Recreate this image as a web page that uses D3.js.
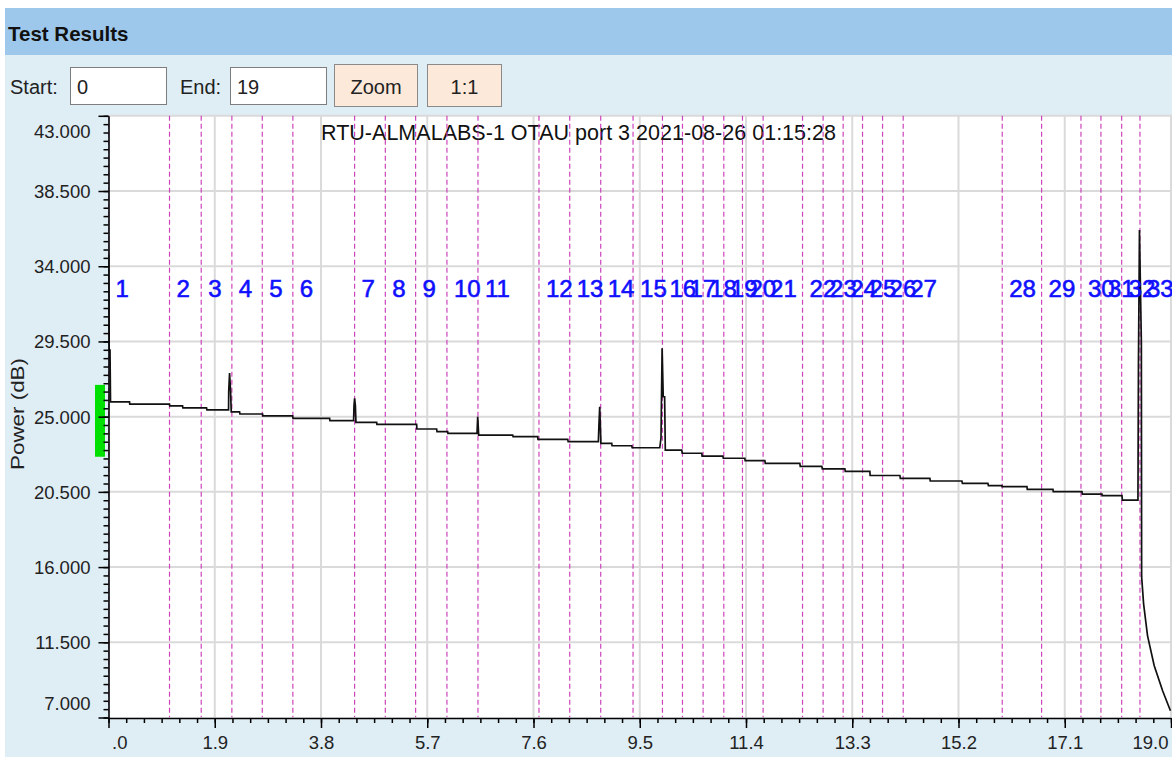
<!DOCTYPE html>
<html>
<head>
<meta charset="utf-8">
<script src="https://cdn.jsdelivr.net/npm/d3@7/dist/d3.min.js"></script>
<style>
  html, body { margin: 0; padding: 0; background: #ffffff; }
  svg { display: block; }
</style>
</head>
<body>
<svg id="chart" width="1172" height="757"></svg>
<script>
// ---- data ----
const chartTitle = "RTU-ALMALABS-1 OTAU port 3 2021-08-26 01:15:28";
const yAxisTitle = "Power (dB)";

const xTickValues = [0, 1.9, 3.8, 5.7, 7.6, 9.5, 11.4, 13.3, 15.2, 17.1, 19.0];
const xTickLabels = [".0", "1.9", "3.8", "5.7", "7.6", "9.5", "11.4", "13.3", "15.2", "17.1", "19.0"];
const yTickValues = [7, 11.5, 16, 20.5, 25, 29.5, 34, 38.5, 43];
const yTickLabels = ["7.000", "11.500", "16.000", "20.500", "25.000", "29.500", "34.000", "38.500", "43.000"];

// event markers (distance in km)
const eventNumbers = [1, 2, 3, 4, 5, 6, 7, 8, 9, 10, 11, 12, 13, 14, 15, 16, 17,
  18, 19, 20, 21, 22, 23, 24, 25, 26, 27, 28, 29, 30, 31, 32, 33];
const eventDistanceKm = [0.000, 1.091, 1.658, 2.206, 2.750, 3.297, 4.401, 4.950, 5.492,
  6.052, 6.607, 7.698, 8.248, 8.802, 9.380, 9.906, 10.264, 10.633, 11.003, 11.337,
  11.706, 12.411, 12.779, 13.137, 13.484, 13.842, 14.211, 15.982, 16.686, 17.390,
  17.747, 18.118, 18.445];

// reflectometer trace
const traceDistanceKm = [
  0.000, 0.010, 0.027, 0.036, 0.376, 0.380, 1.091, 1.095, 1.324, 1.330,
  1.753, 1.760, 2.147, 2.150, 2.165, 2.183, 2.195, 2.344, 2.350, 2.755,
  2.760, 3.292, 3.300, 3.954, 3.960, 4.383, 4.390, 4.401, 4.415, 4.425,
  4.795, 4.800, 5.510, 5.515, 5.868, 5.875, 6.065, 6.070, 6.590, 6.602,
  6.620, 7.228, 7.235, 7.675, 7.680, 8.212, 8.220, 8.760, 8.770, 8.784,
  8.795, 8.805, 8.999, 9.005, 9.357, 9.365, 9.858, 9.880, 9.900, 9.920,
  9.945, 9.957, 10.251, 10.260, 10.609, 10.615, 10.985, 10.995, 11.379, 11.385,
  11.737, 11.745, 12.363, 12.370, 12.756, 12.765, 13.168, 13.175, 13.615, 13.620,
  14.152, 14.160, 14.688, 14.695, 15.261, 15.270, 15.726, 15.735, 15.976, 15.980,
  16.424, 16.430, 16.889, 16.895, 17.408, 17.415, 17.766, 17.770, 18.123, 18.130,
  18.409, 18.418, 18.436, 18.470, 18.475, 18.510, 18.580, 18.700, 18.850, 18.990
];
const tracePowerDb = [
  34.67, 28.98, 28.98, 25.89, 25.89, 25.75, 25.75, 25.65, 25.65, 25.53,
  25.53, 25.40, 25.40, 26.55, 27.61, 26.55, 25.29, 25.29, 25.16, 25.16,
  25.05, 25.05, 24.90, 24.90, 24.76, 24.76, 25.65, 26.10, 25.65, 24.66,
  24.66, 24.54, 24.54, 24.26, 24.26, 24.10, 24.10, 24.00, 24.00, 24.99,
  23.90, 23.90, 23.80, 23.80, 23.64, 23.64, 23.50, 23.50, 24.50, 25.59,
  24.50, 23.40, 23.40, 23.26, 23.26, 23.14, 23.14, 23.72, 29.09, 26.19,
  26.19, 23.00, 23.00, 22.81, 22.81, 22.64, 22.64, 22.51, 22.51, 22.37,
  22.37, 22.20, 22.20, 22.02, 22.02, 21.87, 21.87, 21.72, 21.72, 21.48,
  21.48, 21.31, 21.31, 21.15, 21.15, 21.01, 21.01, 20.87, 20.87, 20.81,
  20.81, 20.65, 20.65, 20.51, 20.51, 20.37, 20.37, 20.27, 20.27, 20.01,
  20.01, 28.19, 36.16, 29.48, 15.41, 13.80, 11.90, 10.10, 8.60, 7.40
];

// acceptance band shown beside the power axis (dB)
const bandLowDb = 22.6;
const bandHighDb = 26.9;

// ---- layout ----
const W = 1172, H = 757;
const plot = { left: 108.5, right: 1171, top: 115.8, bottom: 717.5 };
const uiFont = "'Liberation Sans', Arial, sans-serif";

const svg = d3.select("#chart");

// window chrome
svg.append("rect").attr("x", 0).attr("y", 0).attr("width", W).attr("height", H).attr("fill", "#ffffff");
svg.append("rect").attr("x", 5).attr("y", 55).attr("width", W - 5).attr("height", H - 55).attr("fill", "#dfedf5");
svg.append("rect").attr("x", 5).attr("y", 8).attr("width", W - 5).attr("height", 47).attr("fill", "#9dc8ec");
svg.append("text").attr("x", 8).attr("y", 41)
  .attr("font-family", uiFont).attr("font-weight", "bold").attr("font-size", 20.5)
  .attr("fill", "#111").text("Test Results");

// range controls
const controls = svg.append("g").attr("font-family", uiFont).attr("font-size", 20).attr("fill", "#222");
controls.append("text").attr("x", 10).attr("y", 94).text("Start:");
controls.append("rect").attr("x", 70.5).attr("y", 67.5).attr("width", 96).attr("height", 37)
  .attr("fill", "#fff").attr("stroke", "#7d7d7d");
controls.append("text").attr("x", 77).attr("y", 94).text("0");
controls.append("text").attr("x", 180).attr("y", 94).text("End:");
controls.append("rect").attr("x", 230.5).attr("y", 67.5).attr("width", 96).attr("height", 37)
  .attr("fill", "#fff").attr("stroke", "#7d7d7d");
controls.append("text").attr("x", 237).attr("y", 94).text("19");
[{ x: 334.5, w: 83, label: "Zoom" }, { x: 427.5, w: 74, label: "1:1" }].forEach(b => {
  controls.append("rect").attr("x", b.x).attr("y", 64.5).attr("width", b.w).attr("height", 42)
    .attr("fill", "#fde9d9").attr("stroke", "#8a8a8a");
  controls.append("text").attr("x", b.x + b.w / 2).attr("y", 94).attr("text-anchor", "middle").text(b.label);
});

// ---- scales ----
const x = d3.scaleLinear().domain([0, 19.0]).range([plot.left, plot.right]);
const y = d3.scaleLinear().domain([7, 43]).range([plot.bottom, plot.top]);

// plot background
svg.append("rect").attr("x", plot.left).attr("y", plot.top)
  .attr("width", W - plot.left).attr("height", plot.bottom - plot.top).attr("fill", "#ffffff");

// grid
const grid = svg.append("g").attr("stroke", "#dadada").attr("stroke-width", 2);
grid.selectAll("line.v").data(xTickValues.slice(1)).join("line")
  .attr("x1", d => x(d)).attr("x2", d => x(d)).attr("y1", plot.top).attr("y2", plot.bottom);
grid.selectAll("line.h").data(yTickValues.slice(1)).join("line")
  .attr("x1", plot.left).attr("x2", W).attr("y1", d => y(d)).attr("y2", d => y(d));

// title
svg.append("text").attr("x", 321).attr("y", 140)
  .attr("font-family", "'Liberation Sans Narrow', 'Liberation Sans', Arial, sans-serif")
  .attr("font-size", 22).attr("fill", "#111")
  .attr("textLength", 515).attr("lengthAdjust", "spacingAndGlyphs")
  .text(chartTitle);

// event markers
svg.append("defs").append("clipPath").attr("id", "plotClip")
  .append("rect").attr("x", plot.left).attr("y", plot.top - 1)
  .attr("width", W - plot.left).attr("height", plot.bottom - plot.top + 1);

const events = eventNumbers.map((n, i) => ({ n, km: eventDistanceKm[i] }));
const ev = svg.append("g").attr("clip-path", "url(#plotClip)");
ev.selectAll("line").data(events).join("line")
  .attr("x1", d => x(d.km)).attr("x2", d => x(d.km))
  .attr("y1", plot.top).attr("y2", plot.bottom)
  .attr("stroke", "#cc44bb").attr("stroke-width", 1.2).attr("stroke-dasharray", "5,3");

// trace
const trace = traceDistanceKm.map((km, i) => ({ km, db: tracePowerDb[i] }));
svg.append("path").datum(trace)
  .attr("clip-path", "url(#plotClip)")
  .attr("fill", "none").attr("stroke", "#111").attr("stroke-width", 1.7)
  .attr("stroke-linejoin", "miter")
  .attr("d", d3.line().x(d => x(d.km)).y(d => y(d.db)));

// event numbers
svg.append("g").selectAll("text").data(events).join("text")
  .attr("x", d => x(d.km) + 7).attr("y", 297)
  .attr("font-family", uiFont).attr("font-size", 24).attr("fill", "#1010ff")
  .attr("stroke", "#1010ff").attr("stroke-width", 0.6)
  .text(d => d.n);

// acceptance band
svg.append("rect").attr("x", 95).attr("y", y(bandHighDb)).attr("width", 10)
  .attr("height", y(bandLowDb) - y(bandHighDb)).attr("fill", "#00e000");

// ---- axes ----
const labelShift = v => {
  const py = y(v);
  if (py < plot.top + 15) return plot.top + 15 - py;
  if (py > plot.bottom - 15) return plot.bottom - 15 - py;
  return 0;
};
const yAxis = svg.append("g").attr("transform", `translate(${plot.left},0)`)
  .call(d3.axisLeft(y).tickValues(yTickValues).tickFormat((d, i) => yTickLabels[i])
    .tickSize(10).tickSizeOuter(0).tickPadding(8));
yAxis.selectAll("text")
  .attr("font-family", uiFont).attr("font-size", 18.5).attr("fill", "#222")
  .attr("dy", null).attr("dominant-baseline", "central")
  .attr("y", d => labelShift(d));
svg.append("g").attr("transform", `translate(${plot.left},0)`)
  .call(d3.axisLeft(y).tickValues(d3.range(7, 43.01, 0.5)).tickFormat("").tickSize(5).tickSizeOuter(0))
  .select(".domain").remove();

const xAxis = svg.append("g").attr("transform", `translate(0,${plot.bottom + 0.5})`)
  .call(d3.axisBottom(x).tickValues(xTickValues).tickFormat((d, i) => xTickLabels[i])
    .tickSize(10).tickSizeOuter(0).tickPadding(8));
xAxis.selectAll("text")
  .attr("font-family", uiFont).attr("font-size", 18.5).attr("fill", "#222")
  .attr("text-anchor", (d, i) => i === 0 ? "start" : (i === xTickValues.length - 1 ? "end" : "middle"))
  .attr("x", (d, i) => i === 0 ? 3 : (i === xTickValues.length - 1 ? -3 : 0));
svg.append("g").attr("transform", `translate(0,${plot.bottom + 0.5})`)
  .call(d3.axisBottom(x).tickValues(d3.range(0, 19.01, 1.9 / 6)).tickFormat("").tickSize(5).tickSizeOuter(0))
  .select(".domain").remove();

[yAxis, xAxis].forEach(a => {
  a.select(".domain").attr("stroke", "#000").attr("stroke-width", 1.6);
});
svg.selectAll(".tick line").attr("stroke", "#000").attr("stroke-width", 1.5);

// power axis title
svg.append("text").attr("transform", "translate(24,414) rotate(-90)")
  .attr("text-anchor", "middle").attr("font-family", uiFont).attr("font-size", 18)
  .attr("textLength", 112).attr("lengthAdjust", "spacingAndGlyphs")
  .attr("fill", "#222").text(yAxisTitle);
</script>
</body>
</html>
